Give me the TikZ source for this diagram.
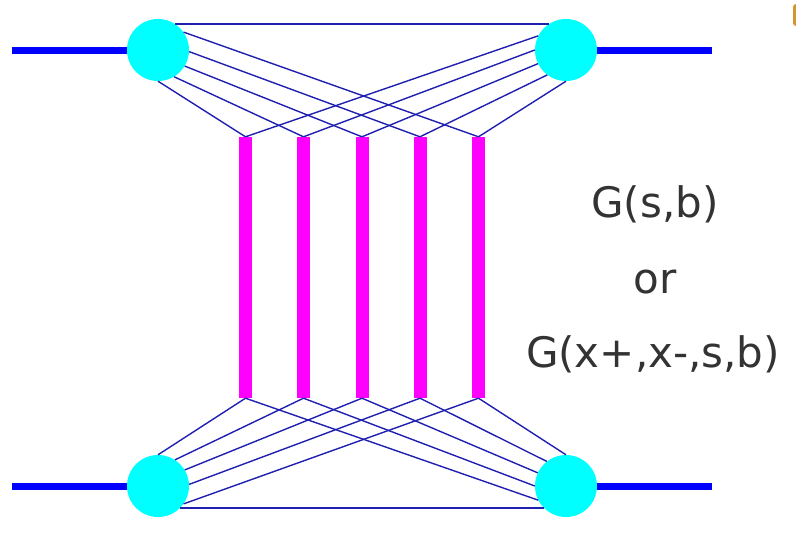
\documentclass[tikz,border=0pt]{standalone}
\usepackage{fontspec}
\setmainfont{DejaVu Sans}
\definecolor{thinblue}{RGB}{32,32,176}
\definecolor{labelgrey}{RGB}{51,51,51}
\definecolor{tabor}{RGB}{214,150,45}
\definecolor{blobcyan}{RGB}{0,255,255}
\definecolor{barmag}{RGB}{255,0,255}
\definecolor{legblue}{RGB}{0,0,255}
\tikzset{
  blob/.style={circle, fill=blobcyan, inner sep=0pt, minimum size=62pt},
  ladder/.style={rectangle, fill=barmag, inner sep=0pt, minimum width=13pt, minimum height=261pt},
  leg/.style={legblue, line width=7pt},
  rung/.style={thinblue, line width=1.4pt},
  lbl/.style={text=labelgrey, font=\fontsize{42pt}{50pt}\selectfont, inner sep=0pt, anchor=base}
}
\begin{document}
\begin{tikzpicture}[x=1pt, y=-1pt]
\useasboundingbox (0,0) rectangle (796,541);
% nodes
\node[blob] (tl) at (158,50) {};
\node[blob] (tr) at (566,50) {};
\node[blob] (bl) at (158,486) {};
\node[blob] (br) at (566,486) {};
\foreach \i/\x in {1/245.5,2/303.5,3/362,4/420,5/478.5}
  \node[ladder] (b\i) at (\x,267.5) {};
\coordinate (tlend) at (12,50);
\coordinate (trend) at (712,50);
\coordinate (blend) at (12,486);
\coordinate (brend) at (712,486);
% external legs
\draw[leg] (tlend) -- (tl.west);
\draw[leg] (tr.east) -- (trend);
\draw[leg] (blend) -- (bl.west);
\draw[leg] (br.east) -- (brend);
% horizontal links
\draw[rung] (tl.57) -- (tr.123);
\draw[rung] (bl.-45) -- (br.-135);
% top fans
\foreach \a/\i in {35/5,-3/4,-31/3,-59/2,-90/1}
  \draw[rung] (tl.\a) -- (b\i.north);
\foreach \a/\i in {153/1,180/2,206/3,233/4,270/5}
  \draw[rung] (tr.\a) -- (b\i.north);
% bottom fans
\foreach \a/\i in {90/1,57/2,31/3,3/4,-35/5}
  \draw[rung] (bl.\a) -- (b\i.south);
\foreach \a/\i in {90/5,128/4,155/3,180/2,207/1}
  \draw[rung] (br.\a) -- (b\i.south);
% labels
\node[lbl] (l1) at (655,217) {G(s,b)};
\node[lbl] (l2) at (655,293) {or};
\node[lbl] (l3) at (653,367) {G(x+,x-,s,b)};
% partial tab at the corner
\fill[tabor, rounded corners=3pt] (793,4) rectangle (806,26);
\end{tikzpicture}
\end{document}
